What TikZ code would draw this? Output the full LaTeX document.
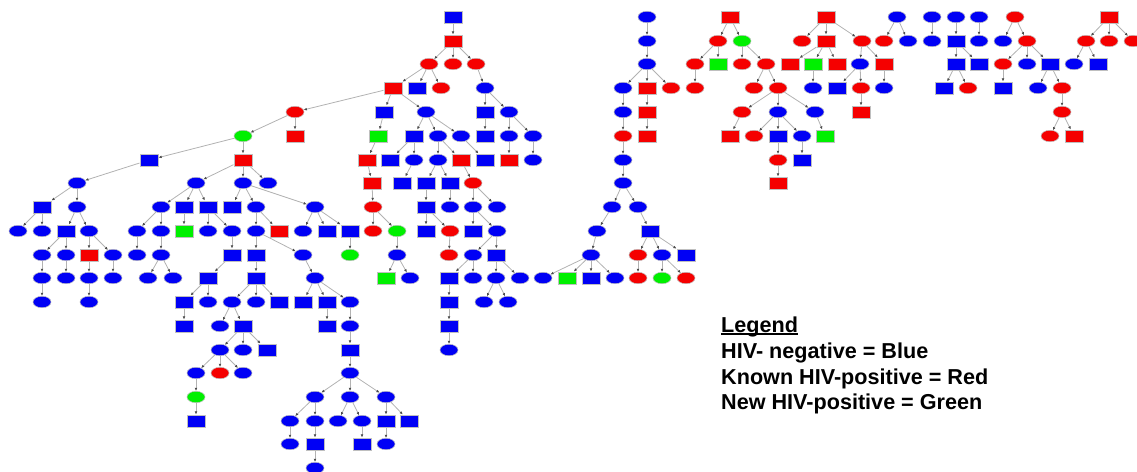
\documentclass[tikz,border=0pt]{standalone}
\usepackage{fontspec}
\setmainfont{Liberation Sans}
\usepackage{xcolor}
\usepackage{tikz}
\usetikzlibrary{arrows.meta,positioning,shapes.geometric}
\definecolor{hivneg}{RGB}{0,0,245}
\definecolor{hivpos}{RGB}{245,0,0}
\definecolor{hivnew}{RGB}{0,240,0}

\begin{document}
\begin{tikzpicture}[
  x=1pt, y=-1pt,
  nd/.style={draw=gray!50,line width=0.5pt,inner sep=0pt},
  sq/.style={nd,rectangle,minimum width=18.5pt,minimum height=12.5pt},
  ov/.style={nd,ellipse,minimum width=18pt,minimum height=11.5pt},
  bsq/.style={sq,fill=hivneg}, bov/.style={ov,fill=hivneg},
  rsq/.style={sq,fill=hivpos}, rov/.style={ov,fill=hivpos},
  gsq/.style={sq,fill=hivnew}, gov/.style={ov,fill=hivnew},
  arr/.style={-{Latex[length=3.2pt,width=2.8pt,color=black!70]},draw=gray!60,line width=0.8pt},
  legtxt/.style={inner sep=0pt,anchor=base west,font=\fontsize{21.6}{25}\selectfont\bfseries}
]
\useasboundingbox (0,0) rectangle (1137,471);

\node[bsq] (a1) at (453,17) {};
\node[rsq] (a2) at (453,41) {};
\node[rov] (a3) at (429,64) {}; \node[rov] (a4) at (453,64) {}; \node[rov] (a5) at (476,64) {};
\node[rsq] (a6) at (393,88) {}; \node[bsq] (a7) at (417,88) {}; \node[rov] (a8) at (441,88) {}; \node[bov] (a9) at (485,88) {};
\node[rov] (a10) at (295,112) {}; \node[bsq] (a11) at (384,112) {}; \node[bov] (a12) at (426,112) {}; \node[bsq] (a13) at (485,112) {}; \node[bov] (a14) at (509,112) {};
\node[gov] (a15) at (243,136) {}; \node[rsq] (a16) at (295,136) {}; \node[gsq] (a17) at (378,136) {}; \node[bsq] (a18) at (414,136) {};
\node[bov] (a19) at (438,136) {}; \node[bov] (a20) at (461,136) {}; \node[bsq] (a21) at (485,136) {}; \node[bov] (a22) at (509,136) {}; \node[bov] (a23) at (533,136) {};
\node[bsq] (a24) at (149,160) {}; \node[rsq] (a25) at (243,160) {}; \node[rsq] (a26) at (367,160) {}; \node[bsq] (a27) at (390,160) {}; \node[bov] (a28) at (414,160) {};
\node[bov] (a29) at (438,160) {}; \node[rsq] (a30) at (461,160) {}; \node[bsq] (a31) at (485,160) {}; \node[rsq] (a32) at (509,160) {}; \node[bov] (a33) at (533,160) {};
\node[bov] (a34) at (77,183) {}; \node[bov] (a35) at (196,183) {}; \node[bov] (a36) at (243,183) {}; \node[bov] (a37) at (268,183) {};
\node[rsq] (a38) at (372,183) {}; \node[bsq] (a39) at (402,183) {}; \node[bsq] (a40) at (426,183) {}; \node[bsq] (a41) at (450,183) {}; \node[rov] (a42) at (473,183) {};
\node[bsq] (a43) at (42,207) {}; \node[bov] (a44) at (77,207) {}; \node[bov] (a45) at (161,207) {}; \node[bsq] (a46) at (184,207) {}; \node[bsq] (a47) at (208,207) {};
\node[bsq] (a48) at (232,207) {}; \node[bov] (a49) at (256,207) {}; \node[bov] (a50) at (315,207) {}; \node[rov] (a51) at (373,207) {};
\node[bsq] (a52) at (426,207) {}; \node[bov] (a53) at (450,207) {}; \node[bov] (a54) at (473,207) {}; \node[bov] (a55) at (497,207) {};
\node[bov] (a56) at (18,231) {}; \node[bov] (a57) at (42,231) {}; \node[bsq] (a58) at (66,231) {}; \node[bov] (a59) at (89,231) {}; \node[bov] (a60) at (137,231) {};
\node[bov] (a61) at (161,231) {}; \node[gsq] (a62) at (184,231) {}; \node[bov] (a63) at (208,231) {}; \node[bov] (a64) at (232,231) {}; \node[bov] (a65) at (256,231) {};
\node[rsq] (a66) at (279,231) {}; \node[bov] (a67) at (303,231) {}; \node[bsq] (a68) at (327,231) {}; \node[bsq] (a69) at (350,231) {}; \node[rov] (a70) at (373,231) {};
\node[gov] (a71) at (397,231) {}; \node[bsq] (a72) at (426,231) {}; \node[rov] (a73) at (450,231) {}; \node[bsq] (a74) at (473,231) {}; \node[bov] (a75) at (497,231) {};
\node[bov] (a76) at (42,255) {}; \node[bov] (a77) at (66,255) {}; \node[rsq] (a78) at (89,255) {}; \node[bov] (a79) at (113,255) {}; \node[bov] (a80) at (137,255) {};
\node[bov] (a81) at (161,255) {}; \node[bsq] (a82) at (232,255) {}; \node[bsq] (a83) at (256,255) {}; \node[bov] (a84) at (303,255) {}; \node[gov] (a85) at (350,255) {};
\node[bov] (a86) at (397,255) {}; \node[rov] (a87) at (449,255) {}; \node[bov] (a88) at (473,255) {}; \node[bsq] (a89) at (496,255) {};
\node[bov] (a90) at (42,278) {}; \node[bov] (a91) at (66,278) {}; \node[bov] (a92) at (89,278) {}; \node[bov] (a93) at (113,278) {}; \node[bov] (a94) at (148,278) {};
\node[bov] (a95) at (173,278) {}; \node[bsq] (a96) at (208,278) {}; \node[bsq] (a97) at (256,278) {}; \node[bov] (a98) at (315,278) {}; \node[gsq] (a99) at (386,278) {};
\node[bov] (a100) at (410,278) {}; \node[bsq] (a101) at (449,278) {}; \node[bov] (a102) at (473,278) {}; \node[bov] (a103) at (496,278) {}; \node[bov] (a104) at (520,278) {};
\node[bov] (a105) at (42,302) {}; \node[bov] (a106) at (89,302) {}; \node[bsq] (a107) at (184,302) {}; \node[bov] (a108) at (208,302) {}; \node[bov] (a109) at (232,302) {};
\node[bov] (a110) at (256,302) {}; \node[bsq] (a111) at (279,302) {}; \node[bsq] (a112) at (303,302) {}; \node[bsq] (a113) at (327,302) {}; \node[bov] (a114) at (350,302) {};
\node[bsq] (a115) at (449,302) {}; \node[bov] (a116) at (484,302) {}; \node[bov] (a117) at (508,302) {};
\node[bsq] (a118) at (184,326) {}; \node[bov] (a119) at (220,326) {}; \node[bsq] (a120) at (243,326) {}; \node[bsq] (a121) at (327,326) {}; \node[bov] (a122) at (350,326) {}; \node[bsq] (a123) at (449,326) {};
\node[bov] (a124) at (220,350) {}; \node[bov] (a125) at (243,350) {}; \node[bsq] (a126) at (267,350) {}; \node[bsq] (a127) at (350,350) {}; \node[bov] (a128) at (449,350) {};
\node[bov] (a129) at (196,373) {}; \node[rov] (a130) at (220,373) {}; \node[bov] (a131) at (243,373) {}; \node[bov] (a132) at (350,373) {};
\node[gov] (a133) at (196,397) {}; \node[bov] (a134) at (315,397) {}; \node[bov] (a135) at (350,397) {}; \node[bov] (a136) at (386,397) {};
\node[bsq] (a137) at (196,421) {}; \node[bov] (a138) at (290,421) {}; \node[bov] (a139) at (315,421) {}; \node[bov] (a140) at (338,421) {};
\node[bov] (a141) at (362,421) {}; \node[bsq] (a142) at (386,421) {}; \node[bsq] (a143) at (409,421) {};
\node[bov] (a144) at (290,444) {}; \node[bsq] (a145) at (315,444) {}; \node[bsq] (a146) at (362,444) {}; \node[bov] (a147) at (386,444) {};
\node[bov] (a148) at (315,468) {};

\draw[arr] (a1) edge (a2);
\draw[arr] (a2) edge (a3) edge (a4) edge (a5);
\draw[arr] (a3) edge (a6) edge (a7) edge (a8);
\draw[arr] (a5) edge (a9);
\draw[arr] (a6) edge (a10) edge (a11) edge (a12);
\draw[arr] (a9) edge (a13) edge (a14);
\draw[arr] (a10) edge (a15) edge (a16);
\draw[arr] (a11) edge (a17);
\draw[arr] (a12) edge (a18) edge (a19) edge (a20);
\draw[arr] (a13) edge (a21);
\draw[arr] (a14) edge (a22) edge (a23);
\draw[arr] (a15) edge (a24) edge (a25);
\draw[arr] (a17) edge (a26);
\draw[arr] (a18) edge (a27) edge (a28);
\draw[arr] (a19) edge (a29) edge (a30);
\draw[arr] (a20) edge (a31);
\draw[arr] (a22) edge (a32);
\draw[arr] (a23) edge (a33);
\draw[arr] (a24) edge (a34);
\draw[arr] (a25) edge (a35) edge (a36) edge (a37);
\draw[arr] (a26) edge (a38);
\draw[arr] (a28) edge (a39);
\draw[arr] (a29) edge (a40) edge (a41);
\draw[arr] (a30) edge (a42);
\draw[arr] (a34) edge (a43) edge (a44);
\draw[arr] (a35) edge (a45) edge (a46) edge (a47);
\draw[arr] (a36) edge (a48) edge (a49) edge (a50);
\draw[arr] (a38) edge (a51);
\draw[arr] (a40) edge (a52);
\draw[arr] (a41) edge (a53);
\draw[arr] (a42) edge (a54) edge (a55);
\draw[arr] (a43) edge (a56) edge (a57);
\draw[arr] (a44) edge (a58) edge (a59);
\draw[arr] (a45) edge (a60) edge (a61);
\draw[arr] (a46) edge (a62);
\draw[arr] (a47) edge (a63) edge (a64);
\draw[arr] (a49) edge (a65) edge (a66);
\draw[arr] (a50) edge (a67) edge (a68) edge (a69);
\draw[arr] (a51) edge (a70) edge (a71);
\draw[arr] (a52) edge (a72) edge (a73);
\draw[arr] (a54) edge (a74) edge (a75);
\draw[arr] (a58) edge (a76) edge (a77);
\draw[arr] (a59) edge (a78) edge (a79);
\draw[arr] (a60) edge (a80);
\draw[arr] (a61) edge (a81);
\draw[arr] (a64) edge (a82);
\draw[arr] (a65) edge (a83) edge (a84);
\draw[arr] (a69) edge (a85);
\draw[arr] (a71) edge (a86);
\draw[arr] (a73) edge (a87);
\draw[arr] (a75) edge (a88) edge (a89);
\draw[arr] (a76) edge (a90);
\draw[arr] (a77) edge (a91);
\draw[arr] (a78) edge (a92);
\draw[arr] (a79) edge (a93);
\draw[arr] (a81) edge (a94) edge (a95);
\draw[arr] (a82) edge (a96);
\draw[arr] (a83) edge (a97);
\draw[arr] (a84) edge (a98);
\draw[arr] (a86) edge (a99) edge (a100);
\draw[arr] (a88) edge (a101) edge (a102);
\draw[arr] (a89) edge (a103) edge (a104);
\draw[arr] (a90) edge (a105);
\draw[arr] (a92) edge (a106);
\draw[arr] (a96) edge (a107) edge (a108);
\draw[arr] (a97) edge (a109) edge (a110) edge (a111);
\draw[arr] (a98) edge (a112) edge (a113) edge (a114);
\draw[arr] (a101) edge (a115);
\draw[arr] (a103) edge (a116) edge (a117);
\draw[arr] (a107) edge (a118);
\draw[arr] (a109) edge (a119) edge (a120);
\draw[arr] (a113) edge (a121);
\draw[arr] (a114) edge (a122);
\draw[arr] (a115) edge (a123);
\draw[arr] (a120) edge (a124) edge (a125) edge (a126);
\draw[arr] (a122) edge (a127);
\draw[arr] (a123) edge (a128);
\draw[arr] (a124) edge (a129) edge (a130) edge (a131);
\draw[arr] (a127) edge (a132);
\draw[arr] (a129) edge (a133);
\draw[arr] (a132) edge (a134) edge (a135) edge (a136);
\draw[arr] (a133) edge (a137);
\draw[arr] (a134) edge (a138) edge (a139);
\draw[arr] (a135) edge (a140) edge (a141);
\draw[arr] (a136) edge (a142) edge (a143);
\draw[arr] (a138) edge (a144);
\draw[arr] (a139) edge (a145);
\draw[arr] (a141) edge (a146);
\draw[arr] (a142) edge (a147);
\draw[arr] (a145) edge (a148);

\node[bov] (b1) at (647,17) {}; \node[bov] (b2) at (647,41) {}; \node[bov] (b3) at (647,64) {};
\node[bov] (b4) at (623,88) {}; \node[rsq] (b5) at (647,88) {}; \node[rov] (b6) at (671,88) {};
\node[bov] (b7) at (623,112) {}; \node[rsq] (b8) at (647,112) {};
\node[rov] (b9) at (623,136) {}; \node[rsq] (b10) at (647,136) {};
\node[bov] (b11) at (623,160) {}; \node[bov] (b12) at (623,183) {};
\node[bov] (b13) at (612,207) {}; \node[bov] (b14) at (638,207) {};
\node[bov] (b15) at (597,231) {}; \node[bsq] (b16) at (650,231) {};
\node[bov] (b17) at (591,255) {}; \node[rov] (b18) at (638,255) {}; \node[bov] (b19) at (662,255) {}; \node[bsq] (b20) at (686,255) {};
\node[bov] (b21) at (543,278) {}; \node[gsq] (b22) at (567,278) {}; \node[bsq] (b23) at (591,278) {}; \node[bov] (b24) at (615,278) {};
\node[rov] (b25) at (638,278) {}; \node[gov] (b26) at (662,278) {}; \node[rov] (b27) at (686,278) {};

\draw[arr] (b1) edge (b2);
\draw[arr] (b2) edge (b3);
\draw[arr] (b3) edge (b4) edge (b5) edge (b6);
\draw[arr] (b4) edge (b7);
\draw[arr] (b5) edge (b8);
\draw[arr] (b7) edge (b9);
\draw[arr] (b8) edge (b10);
\draw[arr] (b9) edge (b11);
\draw[arr] (b11) edge (b12);
\draw[arr] (b12) edge (b13) edge (b14);
\draw[arr] (b13) edge (b15);
\draw[arr] (b14) edge (b16);
\draw[arr] (b15) edge (b17);
\draw[arr] (b16) edge (b18) edge (b19) edge (b20);
\draw[arr] (b17) edge (b21) edge (b22) edge (b23) edge (b24);
\draw[arr] (b18) edge (b25);
\draw[arr] (b19) edge (b26) edge (b27);

\node[rsq] (c1) at (730,17) {};
\node[rov] (c2) at (718,41) {}; \node[gov] (c3) at (742,41) {};
\node[rov] (c4) at (695,64) {}; \node[gsq] (c5) at (718,64) {}; \node[rov] (c6) at (742,64) {}; \node[rov] (c7) at (766,64) {};
\node[rov] (c8) at (695,88) {}; \node[rov] (c9) at (754,88) {}; \node[rov] (c10) at (778,88) {};
\node[rov] (c11) at (742,112) {}; \node[bov] (c12) at (778,112) {}; \node[bov] (c13) at (815,112) {};
\node[rsq] (c14) at (730,136) {}; \node[rov] (c15) at (754,136) {}; \node[bsq] (c16) at (778,136) {}; \node[bov] (c17) at (802,136) {}; \node[gsq] (c18) at (825,136) {};
\node[rov] (c19) at (778,160) {}; \node[bsq] (c20) at (802,160) {};
\node[rsq] (c21) at (778,183) {};

\draw[arr] (c1) edge (c2) edge (c3);
\draw[arr] (c2) edge (c4) edge (c5);
\draw[arr] (c3) edge (c6) edge (c7);
\draw[arr] (c4) edge (c8);
\draw[arr] (c7) edge (c9) edge (c10);
\draw[arr] (c10) edge (c11) edge (c12) edge (c13);
\draw[arr] (c11) edge (c14);
\draw[arr] (c12) edge (c15) edge (c16) edge (c17);
\draw[arr] (c13) edge (c18);
\draw[arr] (c16) edge (c19);
\draw[arr] (c17) edge (c20);
\draw[arr] (c19) edge (c21);

\node[rsq] (d1) at (826,17) {};
\node[rov] (d2) at (802,41) {}; \node[rsq] (d3) at (826,41) {}; \node[rov] (d4) at (862,41) {};
\node[rsq] (d5) at (790,64) {}; \node[gsq] (d6) at (813,64) {}; \node[rsq] (d7) at (837,64) {}; \node[bov] (d8) at (860,64) {}; \node[rsq] (d9) at (884,64) {};
\node[bov] (d10) at (813,88) {}; \node[bsq] (d11) at (837,88) {}; \node[rov] (d12) at (861,88) {}; \node[bov] (d13) at (884,88) {};
\node[rsq] (d14) at (861,112) {};

\draw[arr] (d1) edge (d2) edge (d3) edge (d4);
\draw[arr] (d3) edge (d5) edge (d6) edge (d7);
\draw[arr] (d4) edge (d8) edge (d9);
\draw[arr] (d6) edge (d10);
\draw[arr] (d8) edge (d11) edge (d12);
\draw[arr] (d9) edge (d13);
\draw[arr] (d12) edge (d14);

\node[bov] (e1) at (897,17) {}; \node[rov] (e2) at (884,41) {}; \node[bov] (e3) at (908,41) {};
\node[bov] (f1) at (932,17) {}; \node[bov] (f2) at (932,41) {};
\node[bov] (g1) at (956,17) {}; \node[bsq] (g2) at (956,41) {}; \node[bsq] (g3) at (956,64) {}; \node[bsq] (g4) at (979,64) {};
\node[bsq] (g5) at (944,88) {}; \node[rov] (g6) at (968,88) {};
\node[bov] (h1) at (979,17) {}; \node[bov] (h2) at (979,41) {};
\node[rov] (i1) at (1015,17) {}; \node[bov] (i2) at (1003,41) {}; \node[rov] (i3) at (1027,41) {};
\node[rov] (i4) at (1003,64) {}; \node[bov] (i5) at (1027,64) {}; \node[bsq] (i6) at (1050,64) {};
\node[bsq] (i7) at (1003,88) {}; \node[bov] (i8) at (1038,88) {}; \node[rov] (i9) at (1062,88) {};
\node[rov] (i10) at (1062,112) {}; \node[rov] (i11) at (1050,136) {}; \node[rsq] (i12) at (1074,136) {};
\node[rsq] (j1) at (1109,17) {}; \node[rov] (j2) at (1086,41) {}; \node[rov] (j3) at (1109,41) {}; \node[rov] (j4) at (1133,41) {};
\node[bov] (j5) at (1074,64) {}; \node[bsq] (j6) at (1098,64) {};

\draw[arr] (e1) edge (e2) edge (e3);
\draw[arr] (f1) edge (f2);
\draw[arr] (g1) edge (g2);
\draw[arr] (g2) edge (g3) edge (g4);
\draw[arr] (g3) edge (g5) edge (g6);
\draw[arr] (h1) edge (h2);
\draw[arr] (i1) edge (i2) edge (i3);
\draw[arr] (i3) edge (i4) edge (i5) edge (i6);
\draw[arr] (i4) edge (i7);
\draw[arr] (i6) edge (i8) edge (i9);
\draw[arr] (i9) edge (i10);
\draw[arr] (i10) edge (i11) edge (i12);
\draw[arr] (j1) edge (j2) edge (j3) edge (j4);
\draw[arr] (j2) edge (j5) edge (j6);

\node[legtxt] (leg) at (721,332) {Legend};
\draw[line width=1.3pt] ([yshift=-2pt]leg.base west) -- ([yshift=-2pt]leg.base east);
\node[legtxt] (legneg) at (721,358) {HIV- negative = Blue};
\node[legtxt] (legpos) at (721,384) {Known HIV-positive = Red};
\node[legtxt] (legnew) at (721,409) {New HIV-positive = Green};
\end{tikzpicture}
\end{document}
